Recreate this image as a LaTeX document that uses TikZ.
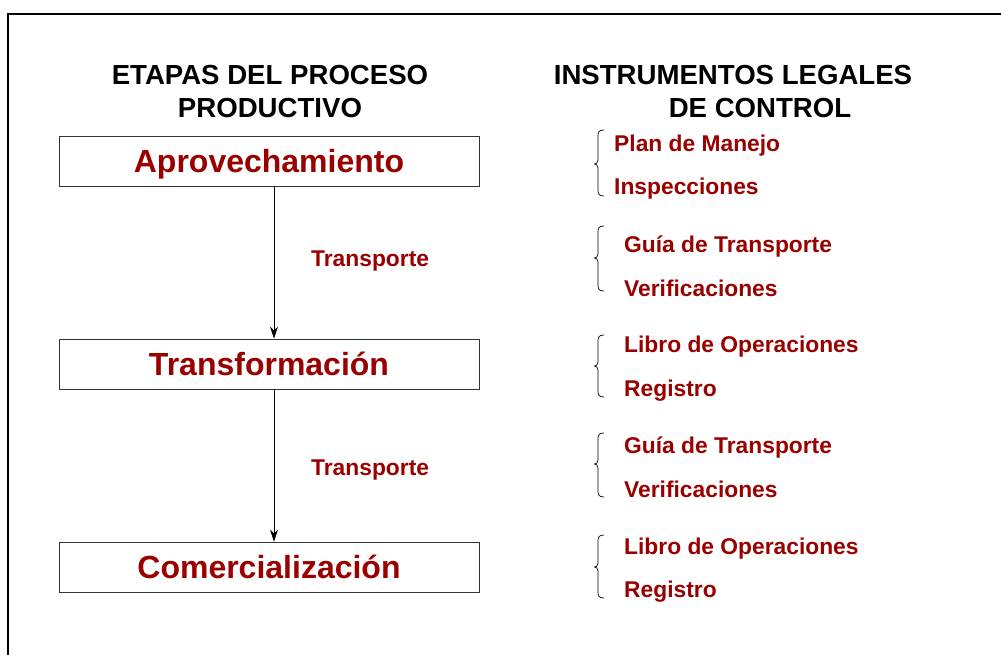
\documentclass[tikz,border=0pt]{standalone}
\usepackage{fontspec}
\setmainfont{Liberation Sans}
\usetikzlibrary{arrows.meta}
\definecolor{dred}{RGB}{153,0,0}
\tikzset{
  stage/.style={draw=black!80, line width=0.9pt, fill=white, minimum width=420pt, minimum height=50pt,
    inner sep=0pt, text=dred, font=\fontsize{32}{36}\selectfont\bfseries, text height=23pt, text depth=0pt},
  head/.style={anchor=base, font=\fontsize{27.6}{30}\selectfont\bfseries, text=black, inner sep=0pt},
  item/.style={anchor=base west, font=\fontsize{22.8}{26}\selectfont\bfseries, text=dred, inner sep=0pt},
  flow/.style={draw=black, line width=0.9pt, -{Stealth[length=12pt,width=8pt]}},
  bracket/.style={draw=black, line width=0.7pt},
  frame/.style={draw=black, line width=2.4pt}
}
\newcommand\lbr[3]{% top, tip, bottom
  \draw[bracket] (604,#1) .. controls (599,#1) and (598,#1+2) .. (598,#1+6)
    -- (598,#2-4) .. controls (598,#2-1) and (596,#2) .. (594.5,#2)
    .. controls (596,#2) and (598,#2+1) .. (598,#2+4)
    -- (598,#3-6) .. controls (598,#3-2) and (599,#3) .. (604,#3);}
\begin{document}
\begin{tikzpicture}[x=1pt,y=-1pt]
\useasboundingbox (0,0) rectangle (1001,655);
\draw[frame] (8,656) -- (8,14) -- (1002,14);

\node[head] (h1) at (270,85) {ETAPAS DEL PROCESO};
\node[head] (h2) at (270,118) {PRODUCTIVO};
\node[head] (h3) at (733,85) {INSTRUMENTOS LEGALES};
\node[head] (h4) at (760,118) {DE CONTROL};

\node[stage] (a) at (269,161) {Aprovechamiento};
\node[stage] (t) at (269,364) {Transformación};
\node[stage] (c) at (269,567) {Comercialización};

\draw[flow] ([xshift=5pt]a.south) -- ([xshift=5pt]t.north);
\draw[flow] ([xshift=5pt]t.south) -- ([xshift=5pt]c.north);

\node[item] (tr1) at (311,266) {Transporte};
\node[item] (tr2) at (311,475) {Transporte};

\lbr{130}{164}{196}
\node[item] (p1) at (614,152) {Plan de Manejo};
\node[item] (p2) at (614,195) {Inspecciones};

\lbr{226}{258}{291}
\node[item] (g1) at (624,252) {Guía de Transporte};
\node[item] (g2) at (624,296) {Verificaciones};

\lbr{335}{366}{397}
\node[item] (l1) at (624,352) {Libro de Operaciones};
\node[item] (l2) at (624,396) {Registro};

\lbr{433}{464}{497}
\node[item] (g3) at (624,453) {Guía de Transporte};
\node[item] (g4) at (624,497) {Verificaciones};

\lbr{535}{567}{598}
\node[item] (l3) at (624,554) {Libro de Operaciones};
\node[item] (l4) at (624,597) {Registro};
\end{tikzpicture}
\end{document}
